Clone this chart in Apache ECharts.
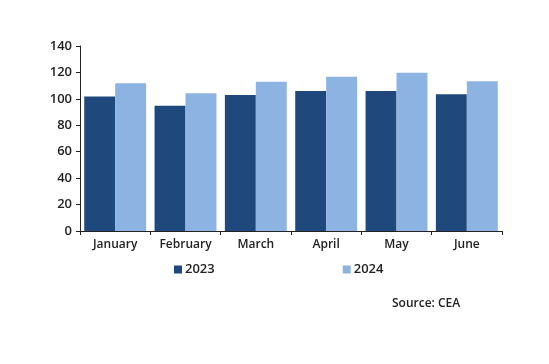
<!DOCTYPE html>
<html>
<head>
<meta charset="utf-8">
<script src="https://cdn.jsdelivr.net/npm/echarts@6/dist/echarts.min.js"></script>
<style>html,body{margin:0;padding:0;background:#fff;}#c{width:549px;height:364px;}</style>
</head>
<body>
<div id="c"></div>
<script>
const categories = ['January', 'February', 'March', 'April', 'May', 'June'];
const values2023 = [101.7, 94.7, 103, 106, 106, 103.5];
const values2024 = [111.9, 104.3, 112.9, 116.7, 119.7, 113.4];
const seriesNames = ['2023', '2024'];
const yTicks = { min: 0, max: 140, interval: 20 };
const sourceText = 'Source: CEA';

const FONT = 'Open Sans';
const chart = echarts.init(document.getElementById('c'));
chart.setOption({
  animation: false,
  backgroundColor: '#ffffff',
  grid: { left: 80, right: 47, top: 46, bottom: 133 },
  legend: {
    data: seriesNames,
    left: 169, top: 258,
    itemWidth: 8, itemHeight: 8, itemGap: 128,
    icon: 'rect',
    textStyle: { fontFamily: FONT, fontSize: 13, color: '#222', fontWeight: 600, padding: [0,0,0,-2] }
  },
  xAxis: {
    type: 'category',
    data: categories,
    axisLine: { lineStyle: { color: '#222', width: 1 } },
    axisTick: { show: true, alignWithLabel: false, length: 4, lineStyle: { color: '#222' } },
    axisLabel: { fontFamily: FONT, fontSize: 12, color: '#222', fontWeight: 600, margin: 8 }
  },
  yAxis: {
    type: 'value',
    min: yTicks.min, max: yTicks.max, interval: yTicks.interval,
    splitLine: { show: false },
    axisLine: { show: true, lineStyle: { color: '#222', width: 1 } },
    axisTick: { show: true, length: 4, lineStyle: { color: '#222' } },
    axisLabel: { fontFamily: FONT, fontSize: 13, color: '#222', fontWeight: 600, margin: 8 }
  },
  series: [
    { name: seriesNames[0], type: 'bar', data: values2023, barGap: '0%', barCategoryGap: '12%',
      itemStyle: { color: '#1F497D' } },
    { name: seriesNames[1], type: 'bar', data: values2024, barGap: '0%', barCategoryGap: '12%',
      itemStyle: { color: '#8DB3E2' } }
  ],
  graphic: [
    { type: 'text', left: 392, top: 298,
      style: { text: sourceText, fontFamily: FONT, fontSize: 12, fontWeight: 600, fill: '#222' } }
  ]
});
</script>
</body>
</html>
